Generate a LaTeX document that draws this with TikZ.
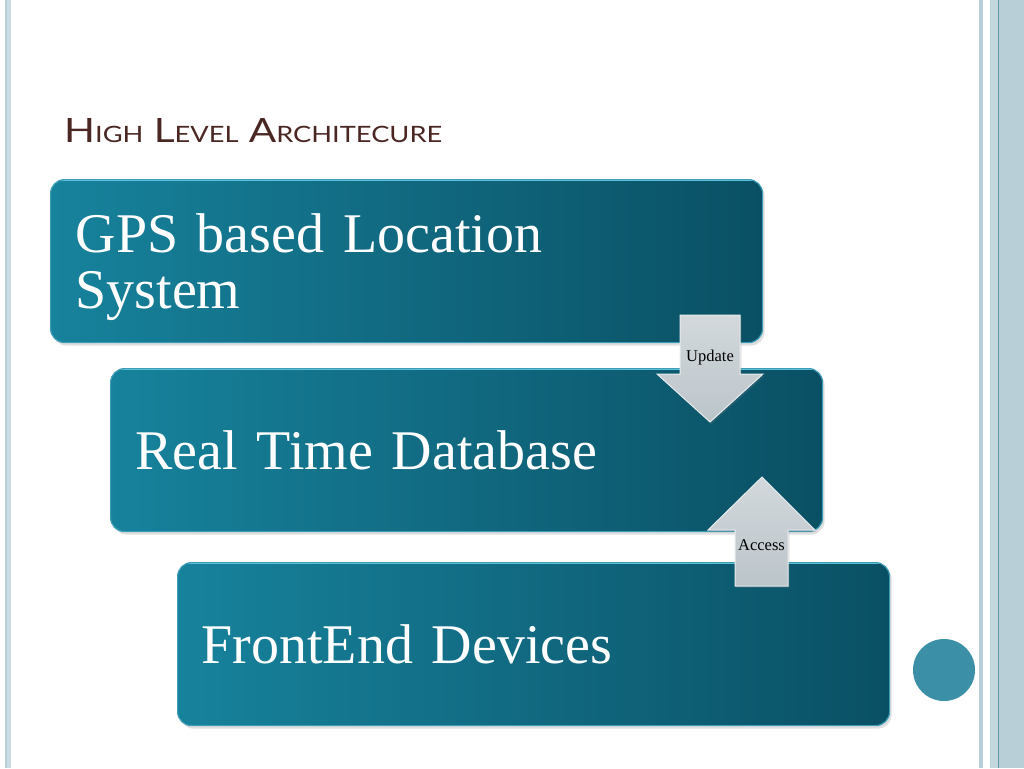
\documentclass[tikz,border=0pt]{standalone}
\usepackage{fontspec}
\usepackage{graphicx}
\setmainfont{Liberation Serif}
\newfontfamily\titlefont{Lato}
\usetikzlibrary{shadows}
\definecolor{boxL}{HTML}{17829C}
\definecolor{boxR}{HTML}{0A5064}
\definecolor{rim}{HTML}{3E9DB6}
\definecolor{rimhi}{HTML}{62C6DD}
\definecolor{arrowtop}{HTML}{D2D8DC}
\definecolor{arrowbot}{HTML}{BCC5CA}
\definecolor{arrowedge}{HTML}{E8ECEE}
\definecolor{titlecol}{HTML}{4A2723}
\definecolor{stripe}{HTML}{B8CFD7}
\definecolor{stripelite}{HTML}{C9DCE3}
\definecolor{stripedark}{HTML}{5E95A4}
\definecolor{dotcol}{HTML}{3B8FA7}
\newcommand\tbig[1]{{\fontsize{33.5}{34}\selectfont #1}}
\newcommand\tsml[1]{{\fontsize{22.5}{23}\selectfont #1}}
\begin{document}
\begin{tikzpicture}[x=1pt,y=-1pt,
  box/.style={rounded corners=14pt, left color=boxL, right color=boxR,
    draw=rim, line width=1.2pt, anchor=north west, inner ysep=0pt,
    minimum width=712pt, minimum height=163pt,
    text=white, align=left, text width=#1,
    font=\fontsize{56}{56}\selectfont,
    drop shadow={shadow xshift=2pt, shadow yshift=-3pt, opacity=0.25},
    path picture={\draw[rimhi, line width=3.5pt]
      (path picture bounding box.north west) -- (path picture bounding box.north east);}},
  blockarrow/.style={top color=arrowtop, bottom color=arrowbot, draw=arrowedge,
    line width=1pt, line join=miter},
  lbl/.style={font=\fontsize{16.5}{17}\selectfont, text=black, inner sep=0pt, anchor=base}
]
\useasboundingbox (0,0) rectangle (1024,768);
\fill[white] (0,0) rectangle (1024,768);

% side stripes
\fill[stripe] (5,0) rectangle (7,768);
\fill[stripelite] (7,0) rectangle (11,768);
\fill[stripe] (979,0) rectangle (983,768);
\fill[stripe] (990,0) rectangle (1024,768);
\fill[stripedark] (997.5,0) rectangle (998.7,768);
\fill[stripelite!60!stripe] (990,0) rectangle (997.5,768);

% title
\node[anchor=base west, inner sep=0pt, text=titlecol,
      font=\titlefont\fontsize{33.5}{34}\selectfont] (title) at (64,142)
  {\resizebox{378pt}{\height}{\tbig{H}\tsml{IGH} \tbig{L}\tsml{EVEL} \tbig{A}\tsml{RCHITECURE}}};

% boxes
\node[box=662pt, inner xsep=25pt, text height=38pt, text depth=56pt] (gps) at (50,179)
  {GPS based Location\\System};
\node[box=662pt, inner xsep=25pt, text height=38pt, text depth=0pt] (rtdb) at (110,368)
  {Real Time Database};
\node[box=664pt, inner xsep=24pt, text height=38pt, text depth=0pt] (fe) at (177,562)
  {FrontEnd Devices};

% block arrows
\draw[blockarrow, drop shadow={shadow xshift=1.5pt, shadow yshift=-2pt, opacity=0.2}]
  (680,315) -- (740,315) -- (740,374) -- (763,374) -- (710,422) -- (657,374) -- (680,374) -- cycle;
\node[lbl] (upd) at (710,361) {Update};

\draw[blockarrow, drop shadow={shadow xshift=1.5pt, shadow yshift=-2pt, opacity=0.2}]
  (762,477) -- (815,530) -- (788,530) -- (788,586) -- (735,586) -- (735,530) -- (708,530) -- cycle;
\node[lbl] (acc) at (761.5,550) {Access};

% decorative dot
\fill[dotcol] (944,670) circle (31pt);
\end{tikzpicture}
\end{document}
